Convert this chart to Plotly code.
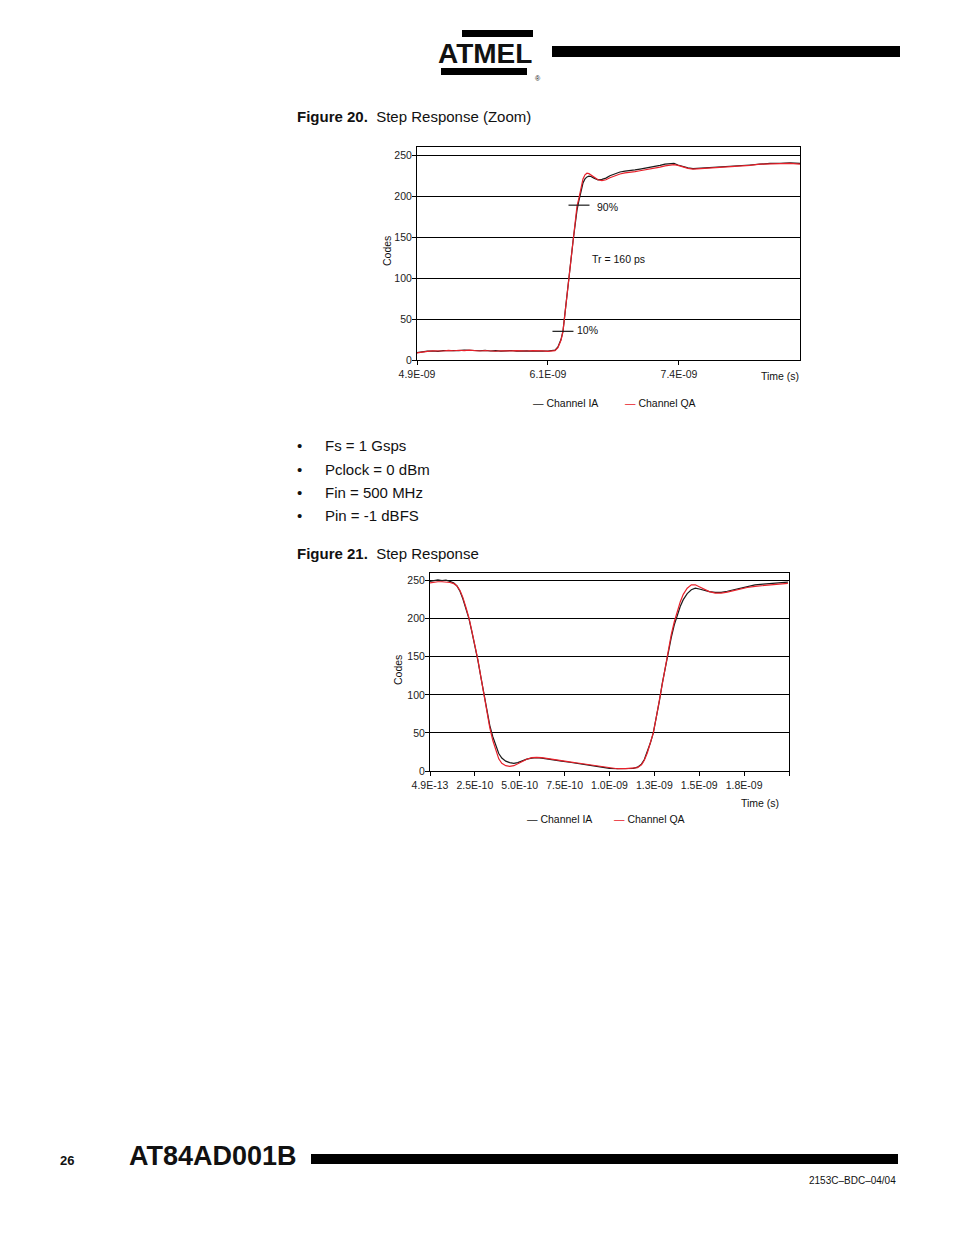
import plotly.graph_objects as go

W, H = 954, 1235
def px(x): return x / W
def py(y): return 1 - y / H

# ---------------- Figure 20 data (time in ns) ----------------
t1 = [4.90, 4.95, 5.00, 5.05, 5.10, 5.15, 5.20, 5.25, 5.30, 5.35, 5.40, 5.45, 5.50, 5.55,
      5.60, 5.65, 5.70, 5.75, 5.80, 5.85, 5.90, 5.95, 6.00, 6.05, 6.10, 6.15, 6.20,
      6.217, 6.245, 6.274, 6.293, 6.312, 6.331, 6.350, 6.369, 6.389, 6.408, 6.427, 6.446,
      6.465, 6.484, 6.503, 6.522, 6.541, 6.560, 6.589, 6.627, 6.665, 6.703, 6.741, 6.789,
      6.837, 6.885, 6.932, 6.980, 7.028, 7.076, 7.123, 7.171, 7.219, 7.267, 7.314, 7.352,
      7.390, 7.438, 7.486, 7.534, 7.600, 7.696, 7.791, 7.887, 7.982, 8.078, 8.173, 8.268,
      8.364, 8.459, 8.555]
ia1 = [9.0, 10.2, 10.8, 11.0, 10.6, 11.4, 11.2, 11.8, 11.5, 12.0, 11.6, 11.9, 11.3, 11.7,
       11.0, 11.4, 10.8, 11.2, 11.6, 10.9, 11.3, 11.1, 10.7, 11.2, 10.9, 11.0, 11.5,
       12, 16, 25, 35, 55, 80, 100, 122, 145, 165, 183, 195,
       207, 216, 221, 223.5, 224.5, 224, 222, 220, 220.5, 222, 225, 227,
       229.5, 230.5, 231, 232, 233, 234, 235, 236, 237.5, 239, 240, 240,
       238, 236, 234.5, 233.5, 234, 235, 235.5, 236, 236.5, 238, 239, 240,
       240, 240.5, 240]
qa1 = [8.6, 9.8, 10.5, 11.2, 10.9, 11.0, 11.7, 11.3, 11.9, 11.4, 12.1, 11.5, 11.0, 11.6,
       11.2, 10.7, 11.3, 10.9, 11.1, 11.5, 10.8, 11.0, 11.4, 10.8, 11.1, 10.6, 11.2,
       11.5, 15, 24, 35, 56, 82, 103, 126, 149, 170, 188, 198,
       211, 221, 226, 228, 227.5, 226, 223, 220, 219, 220, 222.5, 225,
       227, 228.5, 229, 230, 231, 232, 233, 234, 235.5, 237, 238, 238.5,
       237.5, 235.5, 234, 233, 233.5, 234.5, 235, 236, 236.5, 237.5, 239, 239.5,
       240, 240, 239]
x1_ticks = [4.9, 6.15, 7.4]
x1_labels = ["4.9E-09", "6.1E-09", "7.4E-09"]
level_10 = [6.293, 35]
level_90 = [6.446, 189]
tr_text = "Tr = 160 ps"

# ---------------- Figure 21 data (time in ns) ----------------
t2 = [0.000, 0.022, 0.044, 0.067, 0.089, 0.111, 0.133, 0.150, 0.167, 0.183, 0.200, 0.217,
      0.233, 0.250, 0.267, 0.283, 0.300, 0.317, 0.333, 0.350, 0.367, 0.383, 0.400, 0.422,
      0.444, 0.467, 0.489, 0.511, 0.539, 0.567, 0.594, 0.622, 0.656, 0.694, 0.733, 0.778,
      0.822, 0.867, 0.911, 0.956, 1.000, 1.044, 1.089, 1.133, 1.156, 1.178, 1.194, 1.211,
      1.228, 1.244, 1.261, 1.278, 1.294, 1.311, 1.328, 1.344, 1.361, 1.378, 1.394, 1.411,
      1.433, 1.456, 1.478, 1.500, 1.528, 1.556, 1.589, 1.622, 1.656, 1.689, 1.722, 1.767,
      1.811, 1.856, 1.900, 1.944, 1.994]
ia2 = [249, 250, 251, 250, 250.5, 249, 247, 243, 236, 226, 214, 200,
       183, 165, 145, 124, 102, 80, 60, 45, 32, 23, 17, 13,
       11, 10, 11, 13, 15.5, 17, 17.5, 17, 15.5, 14, 13, 11.5,
       10, 8.5, 6.5, 5, 3.5, 3, 3, 3.5, 5, 9, 15, 25,
       37, 50, 70, 92, 115, 137, 157, 175, 192, 205, 216, 225,
       233, 238, 240, 239, 237, 235.5, 234.5, 234.5, 236, 238, 240, 242.5,
       244.5, 245.5, 246.5, 247.5, 248]
qa2 = [247, 248, 248.5, 248.5, 248, 247.5, 246, 243, 237, 228, 215, 201,
       184, 166, 146, 124, 101, 78, 57, 40, 26, 16, 10, 7,
       6, 7, 9.5, 12.5, 15.5, 17.5, 18, 17.5, 16.5, 15, 13.5, 12,
       10.5, 9, 7, 5.5, 4, 3, 3, 3.5, 4.5, 8, 14, 24,
       36, 50, 71, 94, 117, 140, 160, 179, 196, 210, 222, 232,
       240, 244.5, 244.5, 242, 238.5, 235.5, 233.5, 233.5, 235, 237, 239, 241,
       242.5, 243.5, 244.5, 245.5, 246.5]
x2_ticks = [0, 0.25, 0.5, 0.75, 1.0, 1.25, 1.5, 1.75, 2.0]
x2_labels = ["4.9E-13", "2.5E-10", "5.0E-10", "7.5E-10", "1.0E-09", "1.3E-09", "1.5E-09", "1.8E-09", ""]
y_ticks = [0, 50, 100, 150, 200, 250]

series_names = ["Channel IA", "Channel QA"]
BLACK = "#1a1a1a"
RED = "#e8202a"
FONT = "Liberation Sans, Arial, sans-serif"

fig = go.Figure()
fig.add_trace(go.Scatter(x=t1, y=ia1, mode="lines", name=series_names[0],
                         line=dict(color=BLACK, width=1.2), xaxis="x", yaxis="y", showlegend=False))
fig.add_trace(go.Scatter(x=t1, y=qa1, mode="lines", name=series_names[1],
                         line=dict(color=RED, width=1.2), xaxis="x", yaxis="y", showlegend=False))
fig.add_trace(go.Scatter(x=[level_10[0], level_90[0]], y=[level_10[1], level_90[1]], mode="markers",
                         marker=dict(symbol="line-ew-open", size=15, color=BLACK,
                                     line=dict(color=BLACK, width=1.2)),
                         xaxis="x", yaxis="y", showlegend=False, hoverinfo="skip"))
fig.add_trace(go.Scatter(x=t2, y=ia2, mode="lines", name=series_names[0],
                         line=dict(color=BLACK, width=1.2), xaxis="x2", yaxis="y2", showlegend=False))
fig.add_trace(go.Scatter(x=t2, y=qa2, mode="lines", name=series_names[1],
                         line=dict(color=RED, width=1.2), xaxis="x2", yaxis="y2", showlegend=False))

axis_common = dict(showline=True, mirror=True, linecolor="black", linewidth=1,
                   ticks="outside", ticklen=4, tickcolor="black", zeroline=False,
                   automargin=False,
                   tickfont=dict(family=FONT, size=10.5, color="#222"))

fig.update_layout(
    width=W, height=H, autosize=False,
    margin=dict(l=0, r=0, t=0, b=0, pad=0, autoexpand=False),
    paper_bgcolor="white", plot_bgcolor="white", showlegend=False,
    font=dict(family=FONT, color="#222"),
    xaxis=dict(domain=[px(417), px(800)], range=[4.9, 8.555], tickvals=x1_ticks, ticktext=x1_labels,
               showgrid=False, anchor="y", **axis_common),
    yaxis=dict(domain=[py(360), py(147)], range=[0, 260], tickvals=y_ticks, ticklabelstandoff=-2,
               showgrid=True, gridcolor="black", gridwidth=1, anchor="x", **axis_common),
    xaxis2=dict(domain=[px(430), px(789)], range=[0, 2.0], tickvals=x2_ticks, ticktext=x2_labels,
                showgrid=False, anchor="y2", **axis_common),
    yaxis2=dict(domain=[py(771), py(573)], range=[0, 260], tickvals=y_ticks, ticklabelstandoff=-2,
                showgrid=True, gridcolor="black", gridwidth=1, anchor="x2", **axis_common),
)

ann = []
def text(x, y, s, size=12, xanchor="left", yanchor="middle", color="#111", angle=0, family=FONT):
    ann.append(dict(x=px(x), y=py(y), xref="paper", yref="paper", text=s, showarrow=False,
                    xanchor=xanchor, yanchor=yanchor, textangle=angle,
                    font=dict(family=family, size=size, color=color)))

# Figure 20 texts
text(295, 117, "<b>Figure 20.</b>  Step Response (Zoom)", size=15)
text(387, 251, "Codes", size=10.5, xanchor="center", angle=-90)
text(595, 207, "90%", size=10.5)
text(575, 330, "10%", size=10.5)
text(590, 259, tr_text, size=10.5)
text(801, 376, "Time (s)", size=10.5, xanchor="right")
text(531, 403, "<span style='color:%s'>—</span> %s" % (BLACK, series_names[0]), size=10.5)
text(623, 403, "<span style='color:%s'>—</span> %s" % (RED, series_names[1]), size=10.5)

# bullets
bullets = ["Fs = 1 Gsps", "Pclock = 0 dBm", "Fin = 500 MHz", "Pin = -1 dBFS"]
for i, b in enumerate(bullets):
    yy = 446 + i * 23.3
    text(295, yy, "•", size=15)
    text(323, yy, b, size=15)

# Figure 21 texts
text(295, 554, "<b>Figure 21.</b>  Step Response", size=15)
text(398, 670, "Codes", size=10.5, xanchor="center", angle=-90)
text(781, 803, "Time (s)", size=10.5, xanchor="right")
text(525, 819, "<span style='color:%s'>—</span> %s" % (BLACK, series_names[0]), size=10.5)
text(612, 819, "<span style='color:%s'>—</span> %s" % (RED, series_names[1]), size=10.5)

# header logo (approximation) and bar
text(485, 53, "<b>ATMEL</b>", size=28, xanchor="center")
text(533, 73, "®", size=7, xanchor="left", yanchor="top")
# footer
text(58, 1160, "<b>26</b>", size=13)
text(127, 1156, "<b>AT84AD001B</b>", size=27)
text(898, 1180, "2153C–BDC–04/04", size=10, xanchor="right")

shapes = [
    dict(type="rect", xref="paper", yref="paper", x0=px(552), x1=px(900), y0=py(57), y1=py(46),
         fillcolor="black", line=dict(width=0)),
    dict(type="rect", xref="paper", yref="paper", x0=px(462), x1=px(533), y0=py(37), y1=py(30),
         fillcolor="black", line=dict(width=0)),
    dict(type="rect", xref="paper", yref="paper", x0=px(441), x1=px(527), y0=py(75), y1=py(68),
         fillcolor="black", line=dict(width=0)),
    dict(type="rect", xref="paper", yref="paper", x0=px(311), x1=px(898), y0=py(1164), y1=py(1154),
         fillcolor="black", line=dict(width=0)),
]
fig.update_layout(annotations=ann, shapes=shapes)

fig.write_html("out.html", config={"displayModeBar": False},
               post_script="document.body.style.margin='0';document.body.style.padding='0';"
                           "document.documentElement.style.overflow='hidden';")
